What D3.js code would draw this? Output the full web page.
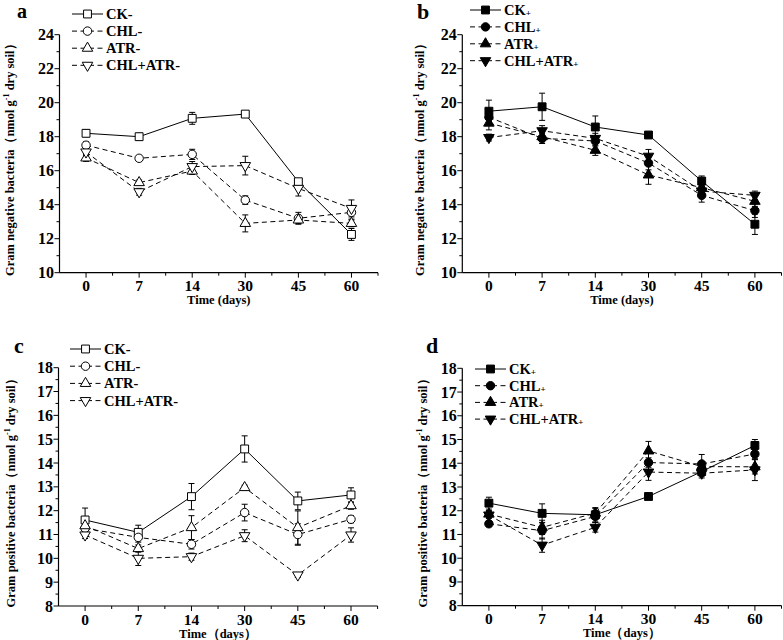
<!DOCTYPE html>
<html><head><meta charset="utf-8">
<script src="https://cdn.jsdelivr.net/npm/d3@7"></script>
<style>body{margin:0;background:#fff}text{font-family:"Liberation Serif","Times New Roman",serif;font-weight:bold;fill:#000}</style>
</head><body><svg id="c" width="783" height="640"></svg>
<script>
const days = ["0","7","14","30","45","60"];
const seriesNamesMinus = ["CK", "CHL", "ATR", "CHL+ATR"];
// Panel a: Gram negative, minus
const aCK = [18.2, 18.0, 19.08, 19.33, 15.35, 12.25];
const aCKerr = [0.2, 0.2, 0.35, 0.15, 0.12, 0.35];
const aCHL = [17.5, 16.73, 16.96, 14.27, 13.2, 13.55];
const aCHLerr = [0.2, 0.1, 0.3, 0.25, 0.35, 0.4];
const aATR = [16.75, 15.3, 15.98, 12.9, 13.1, 12.9];
const aATRerr = [0.2, 0.15, 0.2, 0.5, 0.2, 0.2];
const aCA = [17.1, 14.76, 16.24, 16.3, 14.96, 13.78];
const aCAerr = [0.2, 0.2, 0.3, 0.55, 0.45, 0.5];
// Panel b: Gram negative, plus
const bCK = [19.5, 19.76, 18.57, 18.1, 15.39, 12.85];
const bCKerr = [0.65, 0.8, 0.65, 0.1, 0.3, 0.6];
const bCHL = [19.15, 17.9, 17.75, 16.45, 14.55, 13.65];
const bCHLerr = [0.4, 0.3, 0.3, 0.4, 0.4, 0.4];
const bATR = [18.8, 18.0, 17.2, 15.75, 15.0, 14.2];
const bATRerr = [0.4, 0.3, 0.3, 0.55, 0.3, 0.3];
const bCA = [17.95, 18.35, 17.9, 16.85, 14.8, 14.55];
const bCAerr = [0.2, 0.3, 0.3, 0.4, 0.3, 0.25];
// Panel c: Gram positive, minus
const cCK = [11.61, 11.09, 12.59, 14.59, 12.41, 12.66];
const cCKerr = [0.5, 0.3, 0.55, 0.55, 0.37, 0.3];
const cCHL = [11.26, 10.88, 10.59, 11.92, 11.0, 11.64];
const cCHLerr = [0.15, 0.2, 0.2, 0.35, 0.45, 0.15];
const cATR = [11.37, 10.41, 11.29, 12.97, 11.29, 12.21];
const cATRerr = [0.15, 0.15, 0.5, 0.1, 0.7, 0.15];
const cCA = [10.98, 10.0, 10.07, 10.95, 9.3, 10.98];
const cCAerr = [0.15, 0.3, 0.15, 0.25, 0.1, 0.3];
// Panel d: Gram positive, plus
const dCK = [12.32, 11.89, 11.83, 12.6, 13.65, 14.75];
const dCKerr = [0.25, 0.4, 0.3, 0.05, 0.2, 0.25];
const dCHL = [11.45, 11.16, 11.76, 14.03, 13.97, 14.39];
const dCHLerr = [0.1, 0.35, 0.25, 0.2, 0.4, 0.2];
const dATR = [11.86, 11.3, 11.9, 14.52, 13.86, 13.85];
const dATRerr = [0.15, 0.3, 0.2, 0.4, 0.2, 0.3];
const dCA = [11.82, 10.55, 11.3, 13.63, 13.58, 13.72];
const dCAerr = [0.15, 0.3, 0.2, 0.35, 0.2, 0.45];

const svg = d3.select("#c");

function drawPanel(o) {
  const g = svg.append("g");
  const x = d3.scalePoint().domain(days).range(o.xr).padding(0.5);
  const y = d3.scaleLinear().domain(o.yd).range(o.yr);
  const step = x.step();
  g.append("line").attr("x1", o.xr[0]).attr("x2", o.xr[1]).attr("y1", o.yr[0]).attr("y2", o.yr[0]).attr("stroke", "#000").attr("stroke-width", 1.2);
  g.append("line").attr("x1", o.xr[0]).attr("x2", o.xr[0]).attr("y1", o.yr[0]).attr("y2", o.yr[1]).attr("stroke", "#000").attr("stroke-width", 1.2);
  days.forEach(d => {
    g.append("line").attr("x1", x(d)).attr("x2", x(d)).attr("y1", o.yr[0]).attr("y2", o.yr[0] + 5).attr("stroke", "#000");
    g.append("line").attr("x1", x(d) + step / 2).attr("x2", x(d) + step / 2).attr("y1", o.yr[0]).attr("y2", o.yr[0] + 3).attr("stroke", "#000");
    g.append("text").attr("x", x(d)).attr("y", o.yr[0] + 18.5).attr("text-anchor", "middle").attr("font-size", 15.5).text(d);
  });
  const major = d3.range(o.yd[0], o.yd[1] + 0.001, o.ymaj);
  const minor = d3.range(o.yd[0] + o.ymaj / 2, o.yd[1], o.ymaj);
  major.forEach(v => {
    g.append("line").attr("x1", o.xr[0] - 5).attr("x2", o.xr[0]).attr("y1", y(v)).attr("y2", y(v)).attr("stroke", "#000");
    g.append("text").attr("x", o.xr[0] - 5.5).attr("y", y(v) + 5.5).attr("text-anchor", "end").attr("font-size", 16).text(v);
  });
  minor.forEach(v => {
    g.append("line").attr("x1", o.xr[0] - 3).attr("x2", o.xr[0]).attr("y1", y(v)).attr("y2", y(v)).attr("stroke", "#000");
  });
  g.append("text").attr("x", (o.xr[0] + o.xr[1]) / 2).attr("y", o.xlabY).attr("text-anchor", "middle").attr("font-size", 12.5).text(o.xlab);
  const yl = g.append("text").attr("transform", `translate(${o.ylabX},${(o.yr[0] + o.yr[1]) / 2 + 3}) rotate(-90)`).attr("text-anchor", "middle").attr("font-size", 12.5);
  yl.append("tspan").text(o.ylab + "（nmol g");
  yl.append("tspan").attr("font-size", 8).attr("dy", -5).text("-1");
  yl.append("tspan").attr("dy", 5).text(" dry soil）");
  g.append("text").attr("x", o.letterX).attr("y", o.letterY).attr("font-size", o.letterSize || 22).text(o.letter);

  const sym = [d3.symbolSquare, d3.symbolCircle, d3.symbolTriangle, d3.symbolTriangle];
  const sizes = [62, 56, 48, 48];
  const rot = [0, 0, 0, 180];
  const dash = [null, "5,3.5", "5,3.5", "5,3.5"];
  const line = d3.line().x((v, i) => x(days[i])).y(v => y(v));
  const ser = o.series;
  ser.forEach((s, k) => {
    g.append("path").attr("d", line(s.v)).attr("fill", "none").attr("stroke", "#000").attr("stroke-width", 1).attr("stroke-dasharray", dash[k]);
  });
  ser.forEach((s, k) => {
    s.v.forEach((v, i) => {
      const cx = x(days[i]);
      const t = y(v + s.e[i]), b = y(v - s.e[i]);
      g.append("line").attr("x1", cx).attr("x2", cx).attr("y1", t).attr("y2", b).attr("stroke", "#000").attr("stroke-width", 1);
      [t, b].forEach(yy => g.append("line").attr("x1", cx - 3).attr("x2", cx + 3).attr("y1", yy).attr("y2", yy).attr("stroke", "#000").attr("stroke-width", 1));
    });
  });
  ser.forEach((s, k) => {
    s.v.forEach((v, i) => {
      g.append("path").attr("d", d3.symbol().type(sym[k]).size(sizes[k])())
        .attr("transform", `translate(${x(days[i])},${y(v)}) rotate(${rot[k]})`)
        .attr("fill", o.filled ? "#000" : "#fff").attr("stroke", "#000").attr("stroke-width", 1);
    });
  });
  ser.forEach((s, k) => {
    const ly = o.legY + k * o.legDy;
    g.append("line").attr("x1", o.legX).attr("x2", o.legX + 31).attr("y1", ly).attr("y2", ly).attr("stroke", "#000").attr("stroke-width", 1).attr("stroke-dasharray", dash[k]);
    g.append("path").attr("d", d3.symbol().type(sym[k]).size(sizes[k])())
      .attr("transform", `translate(${o.legX + 15.5},${ly}) rotate(${rot[k]})`)
      .attr("fill", o.filled ? "#000" : "#fff").attr("stroke", "#000");
    const t = g.append("text").attr("x", o.legX + 34).attr("y", ly + 5).attr("font-size", 14.5);
    t.append("tspan").text(s.name);
    if (o.filled) t.append("tspan").attr("font-size", 9).attr("dy", 1).text("+");
    else t.append("tspan").text("-");
  });
}

drawPanel({
  xr: [59.5, 378], yr: [272.7, 34.7], yd: [10, 24], ymaj: 2,
  xlab: "Time (days)", xlabY: 303.5, ylab: "Gram negative bacteria", ylabX: 14,
  letter: "a", letterX: 17, letterY: 18, letterSize: 20, filled: false,
  legX: 72, legY: 14, legDy: 17.1,
  series: [
    {name: seriesNamesMinus[0], v: aCK, e: aCKerr},
    {name: seriesNamesMinus[1], v: aCHL, e: aCHLerr},
    {name: seriesNamesMinus[2], v: aATR, e: aATRerr},
    {name: seriesNamesMinus[3], v: aCA, e: aCAerr}
  ]
});
drawPanel({
  xr: [462.3, 781.5], yr: [272.7, 34.7], yd: [10, 24], ymaj: 2,
  xlab: "Time (days)", xlabY: 303.5, ylab: "Gram negative bacteria", ylabX: 424,
  letter: "b", letterX: 417, letterY: 19, filled: true,
  legX: 470, legY: 10, legDy: 16.9,
  series: [
    {name: seriesNamesMinus[0], v: bCK, e: bCKerr},
    {name: seriesNamesMinus[1], v: bCHL, e: bCHLerr},
    {name: seriesNamesMinus[2], v: bATR, e: bATRerr},
    {name: seriesNamesMinus[3], v: bCA, e: bCAerr}
  ]
});
drawPanel({
  xr: [58.5, 377.6], yr: [606, 367.7], yd: [8, 18], ymaj: 1,
  xlab: "Time（days）", xlabY: 637.5, ylab: "Gram positive bacteria", ylabX: 15,
  letter: "c", letterX: 14, letterY: 353, filled: false,
  legX: 70, legY: 349, legDy: 17.2,
  series: [
    {name: seriesNamesMinus[0], v: cCK, e: cCKerr},
    {name: seriesNamesMinus[1], v: cCHL, e: cCHLerr},
    {name: seriesNamesMinus[2], v: cATR, e: cATRerr},
    {name: seriesNamesMinus[3], v: cCA, e: cCAerr}
  ]
});
drawPanel({
  xr: [462.3, 781.5], yr: [605.7, 368.3], yd: [8, 18], ymaj: 1,
  xlab: "Time（days）", xlabY: 637, ylab: "Gram positive bacteria", ylabX: 427,
  letter: "d", letterX: 426, letterY: 353, filled: true,
  legX: 475, legY: 369, legDy: 16.7,
  series: [
    {name: seriesNamesMinus[0], v: dCK, e: dCKerr},
    {name: seriesNamesMinus[1], v: dCHL, e: dCHLerr},
    {name: seriesNamesMinus[2], v: dATR, e: dATRerr},
    {name: seriesNamesMinus[3], v: dCA, e: dCAerr}
  ]
});
</script></body></html>
